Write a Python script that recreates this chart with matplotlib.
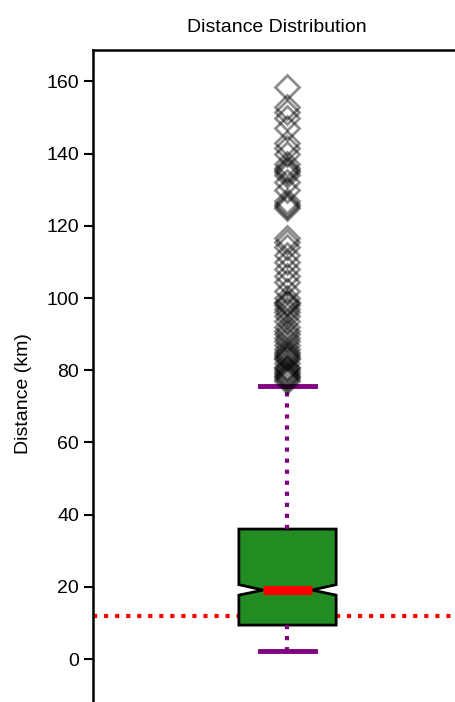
import matplotlib
matplotlib.use("Agg")
import matplotlib.pyplot as plt

# box summary (km)
q1 = 9.4
median = 19.1
q3 = 36.0
whisker_low = 2.2
whisker_high = 75.6
notch_low = 17.7
notch_high = 20.6
reference_line = 11.9

# outliers above the upper whisker
fliers = [158.5, 153, 151.5, 150, 147, 143, 141.5, 140, 137, 136, 135.5, 135, 134,
          132, 130, 127, 126, 125.5, 125,
          116.5, 115.5, 114, 112, 110, 108, 106, 104.5, 102, 100, 99, 98.5, 98,
          97, 96, 95, 93.5, 92, 91, 90, 89, 88, 87, 86, 85, 84.5, 84, 83.5, 83,
          82, 81, 80.5, 80, 79.5, 79, 78.5, 78, 77.5, 77]

plt.rcParams['font.family'] = ['Liberation Sans', 'DejaVu Sans']

fig = plt.figure(figsize=(4.56, 7.02), dpi=100)
ax = fig.add_axes([93/456, -35/702, 389/456, 687/702])

stats = [dict(med=median, q1=q1, q3=q3, whislo=whisker_low, whishi=whisker_high,
              cilo=notch_low, cihi=notch_high, fliers=fliers)]

ax.bxp(stats, positions=[1], widths=0.25, capwidths=0.14, shownotches=True,
       patch_artist=True,
       boxprops=dict(facecolor='forestgreen', edgecolor='black', linewidth=2),
       medianprops=dict(color='red', linewidth=6.5),
       whiskerprops=dict(color='purple', linestyle=':', linewidth=3),
       capprops=dict(color='purple', linewidth=3.5),
       flierprops=dict(marker='D', markerfacecolor='none', markeredgecolor='black',
                       markersize=12, markeredgewidth=2, alpha=0.45))

ax.axhline(reference_line, color='red', linestyle=':', linewidth=3, zorder=0)

ax.set_xlim(0.5, 1.5)
ax.set_ylim(-21.6, 168.7)
ax.set_yticks([0, 20, 40, 60, 80, 100, 120, 140, 160])
ax.set_xticks([])
ax.tick_params(axis='y', labelsize=14, length=6.5, width=1.5)
for s in ax.spines.values():
    s.set_linewidth(1.8)

ax.set_ylabel('Distance (km)', fontsize=14, labelpad=10)
ax.set_title('Distance Distribution', fontsize=14, pad=13, x=0.472)

fig.savefig('out.png', dpi=100)
